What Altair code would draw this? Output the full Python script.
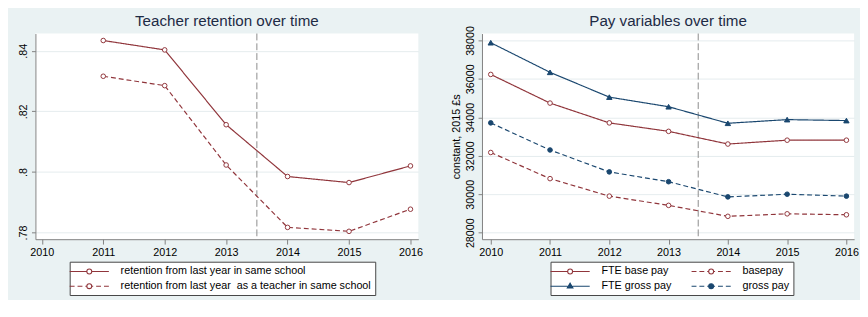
import altair as alt
import pandas as pd

FONT = "Liberation Sans"
MAROON = "#90353B"
NAVY = "#1A476F"
BG = "#EAF2F3"

# ---- data: left panel ----
ret_years = [2011, 2012, 2013, 2014, 2015, 2016]
ret_school = [0.8434, 0.8403, 0.8156, 0.7985, 0.7965, 0.8020]
ret_teacher = [0.8316, 0.8285, 0.8023, 0.7817, 0.7804, 0.7877]
ret_names = ["retention from last year in same school",
             "retention from last year \u00a0as a teacher in same school"]

# ---- data: right panel ----
pay_years = [2010, 2011, 2012, 2013, 2014, 2015, 2016]
fte_base = [36230, 34740, 33710, 33270, 32610, 32810, 32810]
basepay = [32170, 30810, 29900, 29420, 28850, 28980, 28930]
fte_gross = [37880, 36340, 35050, 34550, 33690, 33880, 33830]
gross = [33710, 32300, 31160, 30650, 29860, 30000, 29900]
# legend order (column-major): FTE base pay, FTE gross pay | basepay, gross pay
pay_names = ["FTE base pay", "FTE gross pay", "basepay", "gross pay"]
pay_values = [fte_base, fte_gross, basepay, gross]

cutoff = [2013.5]
x_ticks = [2010, 2011, 2012, 2013, 2014, 2015, 2016]
left_y_ticks = [0.78, 0.80, 0.82, 0.84]
right_y_ticks = [28000, 30000, 32000, 34000, 36000, 38000]

left_df = pd.DataFrame({
    "year": ret_years * 2,
    "value": ret_school + ret_teacher,
    "series": [ret_names[0]] * len(ret_years) + [ret_names[1]] * len(ret_years),
})
right_df = pd.DataFrame({
    "year": pay_years * 4,
    "value": sum(pay_values, []),
    "series": sum([[n] * len(pay_years) for n in pay_names], []),
})
cut_df = pd.DataFrame({"year": cutoff})

# legend symbols: line (solid or dashed) with marker in the middle
CIRC = "M0.5,0A0.5,0.5,0,1,1,-0.5,0A0.5,0.5,0,1,1,0.5,0Z"
TRI = "M0,-0.62L0.58,0.38L-0.58,0.38Z"
SOLID = "M-4,0H-0.5M0.5,0H4"
DASH = "M-4,0H-3M-2.4,0H-1.4M-0.8,0H-0.5M0.5,0H0.8M1.4,0H2.4M3,0H4"
SOLID_DASH = [1, 0]
DASHED = [5, 3]


def xaxis():
    return alt.Axis(values=x_ticks, format="d", labelAngle=0, grid=False,
                    tickSize=5, labelPadding=3, title=None)


def legend(x, y, cols, colpad=0):
    return alt.Legend(title=None, orient="none", legendX=x, legendY=y,
                      direction="vertical", columns=cols, columnPadding=colpad,
                      fillColor="white", strokeColor="#444", padding=4,
                      labelFontSize=11, labelFont=FONT, labelColor="#000",
                      symbolSize=100, symbolStrokeWidth=1.1, symbolOffset=10,
                      labelOffset=26, rowPadding=4, symbolOpacity=1, labelLimit=500)


def panel(df, names, colors, dashes, fills, shapes, legend_shapes, xdom, ydom, yaxis,
          width, title, leg, title_dy):
    xs = alt.Scale(domain=xdom, nice=False, zero=False)
    ys = alt.Scale(domain=ydom, nice=False, zero=False)
    X = alt.X("year:Q", scale=xs, axis=xaxis())
    Y = alt.Y("value:Q", scale=ys, axis=yaxis)

    layers = [alt.Chart(cut_df).mark_rule(color="#8A8A8A", strokeDash=[7, 3],
                                          strokeWidth=1).encode(x=alt.X("year:Q", scale=xs))]
    for name, col, dash in zip(names, colors, dashes):
        layers.append(alt.Chart(df).transform_filter(alt.datum.series == name)
                      .mark_line(strokeWidth=1.2, color=col, strokeDash=dash)
                      .encode(x=X, y=Y))
    for name, col, fill, shape in zip(names, colors, fills, shapes):
        size = 30 if shape == "triangle-up" else 22
        layers.append(alt.Chart(df).transform_filter(alt.datum.series == name)
                      .mark_point(shape=shape, size=size, strokeWidth=1, opacity=1,
                                  filled=False, stroke=col, fill=fill)
                      .encode(x=X, y=Y))
    leg_layer = alt.Chart(df).mark_point(opacity=0, filled=False).encode(
        x=X, y=Y,
        color=alt.Color("series:N", scale=alt.Scale(domain=names, range=colors), legend=leg),
        fill=alt.Fill("series:N", scale=alt.Scale(domain=names, range=fills), legend=leg),
        shape=alt.Shape("series:N", scale=alt.Scale(domain=names, range=legend_shapes),
                        legend=leg),
    )
    layers.append(leg_layer)
    return alt.layer(*layers).properties(
        width=width, height=210,
        title=alt.TitleParams(title, fontSize=15.5, font=FONT, color="#1E2B45",
                              fontWeight="normal", anchor="middle", offset=4,
                              frame="group", dy=title_dy),
    )


left_axis = alt.Axis(values=left_y_ticks, labelExpr="slice(format(datum.value, '.2~f'), 1)",
                     labelAngle=270, tickSize=4, labelPadding=3, title=None, grid=True)
right_axis = alt.Axis(values=right_y_ticks, format="d", labelAngle=270, tickSize=4,
                      labelPadding=3, title="constant, 2015 £s", titleFontSize=11,
                      titleFontWeight="normal", titleFont=FONT, titleColor="#000",
                      titlePadding=3, grid=True)

left = panel(left_df, ret_names, [MAROON, MAROON], [SOLID_DASH, DASHED],
             ["white", "white"], ["circle", "circle"],
             [SOLID + CIRC, DASH + CIRC], [2009.896, 2016.128], [0.7778, 0.8457],
             left_axis, 391, "Teacher retention over time",
             legend(35, 233, 1), 0)

right = panel(right_df, pay_names, [MAROON, NAVY, MAROON, NAVY],
              [SOLID_DASH, SOLID_DASH, DASHED, DASHED], ["white", NAVY, "white", NAVY],
              ["circle", "triangle-up", "circle", "circle"],
              [SOLID + CIRC, SOLID + TRI, DASH + CIRC, DASH + CIRC],
              [2009.852, 2016.13], [27660, 38357], right_axis, 380,
              "Pay variables over time", legend(70, 233, 2, 17), 8)

chart = alt.hconcat(left, right, spacing=27).resolve_scale(
    color="independent", fill="independent", shape="independent",
    x="independent", y="independent"
).resolve_legend(color="independent", fill="independent", shape="independent").properties(
    background=BG,
    padding={"left": 10, "top": 3, "right": 1, "bottom": 1},
).configure_view(stroke=None, fill="white").configure_axis(
    labelFont=FONT, labelFontSize=11, labelColor="#000",
    domainColor="#808080", tickColor="#808080", gridColor="#E4ECEE",
    domainWidth=1, tickWidth=1,
).configure_title(font=FONT)

chart.save("out.html", embed_options={"renderer": "svg", "actions": False})
